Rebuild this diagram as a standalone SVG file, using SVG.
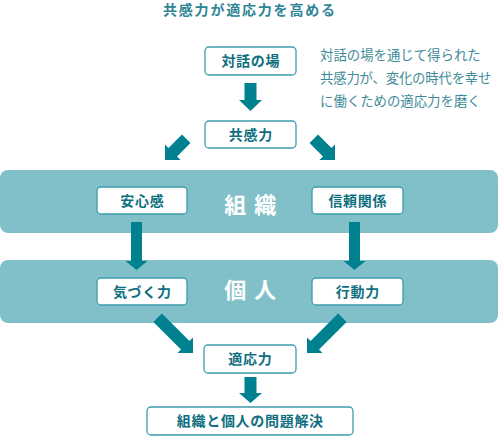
<svg xmlns="http://www.w3.org/2000/svg" width="499" height="436" viewBox="0 0 499 436">
<style>
.band{fill:#82c0c9}
.box{fill:#ffffff;stroke:#3d9dac;stroke-width:1.3}
.bt{font-family:"Noto Sans CJK JP","Noto Sans CJK SC",sans-serif;font-size:14px;font-weight:bold;fill:#0f6f7f;text-anchor:middle;letter-spacing:0.7px}
.bl{font-family:"Noto Sans CJK JP","Noto Sans CJK SC",sans-serif;font-size:22px;font-weight:bold;fill:#ffffff;text-anchor:middle;letter-spacing:1.5px}
.ar{fill:#00818f}
.ds{font-family:"Noto Sans CJK JP","Noto Sans CJK SC",sans-serif;font-size:13.4px;fill:#3f8c98}
.tt{font-family:"Noto Sans CJK JP","Noto Sans CJK SC",sans-serif;font-size:14px;font-weight:bold;fill:#2e8494;letter-spacing:1.8px}
</style>
<rect width="499" height="436" fill="#ffffff"/>
<text class="tt" x="163" y="14.5">共感力が適応力を高める</text>
<text class="ds" x="320" y="60">対話の場を通じて得られた</text>
<text class="ds" x="320" y="83" letter-spacing="-0.2">共感力が、変化の時代を幸せ</text>
<text class="ds" x="320" y="105.5">に働くための適応力を磨く</text>
<g id="band-soshiki">
<rect class="band" x="0" y="170" width="498" height="63" rx="8"/>
<text class="bl" x="251" y="213">組 織</text>
</g>
<g id="band-kojin">
<rect class="band" x="0" y="260" width="498" height="63" rx="8"/>
<text class="bl" x="251" y="297.5">個 人</text>
</g>
<g id="connectors">
<polygon class="ar" points="244.5,83 256.5,83 256.5,100 262,100 250.5,111 239,100 244.5,100"/>
<polygon class="ar" transform="translate(165,160) rotate(45)" points="-6,-30 6,-30 6,-11 11,-11 0,0 -11,-11 -6,-11"/>
<polygon class="ar" transform="translate(335,160) rotate(-45)" points="-6,-30 6,-30 6,-11 11,-11 0,0 -11,-11 -6,-11"/>
<polygon class="ar" points="131,222 142,222 142,261 147.5,261 136.5,270 125.5,261 131,261"/>
<polygon class="ar" points="349,222 360,222 360,261 365.5,261 354.5,270 343.5,261 349,261"/>
<polygon class="ar" transform="translate(193,353) rotate(-45)" points="-6,-50 6,-50 6,-11 11,-11 0,0 -11,-11 -6,-11"/>
<polygon class="ar" transform="translate(307,353) rotate(45)" points="-6,-50 6,-50 6,-11 11,-11 0,0 -11,-11 -6,-11"/>
<polygon class="ar" points="244.5,377 256.5,377 256.5,393 262,393 250.5,403 239,393 244.5,393"/>
</g>
<g id="taiwa">
<rect class="box" x="205" y="47" width="91" height="28" rx="4"/>
<text class="bt" x="250.8" y="66.3">対話の場</text>
</g>
<g id="kyokan">
<rect class="box" x="205" y="121" width="91" height="27" rx="4"/>
<text class="bt" x="250.8" y="139.8">共感力</text>
</g>
<g id="anshin">
<rect class="box" x="97" y="187" width="90" height="27" rx="4"/>
<text class="bt" x="142.3" y="205.8">安心感</text>
</g>
<g id="shinrai">
<rect class="box" x="312" y="187" width="91" height="27" rx="4"/>
<text class="bt" x="357.8" y="205.8">信頼関係</text>
</g>
<g id="kizuku">
<rect class="box" x="97" y="278" width="90" height="27" rx="4"/>
<text class="bt" x="142.3" y="296.8">気づく力</text>
</g>
<g id="kodo">
<rect class="box" x="312" y="278" width="91" height="27" rx="4"/>
<text class="bt" x="357.8" y="296.8">行動力</text>
</g>
<g id="tekio">
<rect class="box" x="204" y="345" width="92" height="28" rx="4"/>
<text class="bt" x="250.3" y="364.3">適応力</text>
</g>
<g id="kaiketsu">
<rect class="box" x="147" y="407" width="206" height="28" rx="4"/>
<text class="bt" x="250.3" y="426.3">組織と個人の問題解決</text>
</g>
</svg>
